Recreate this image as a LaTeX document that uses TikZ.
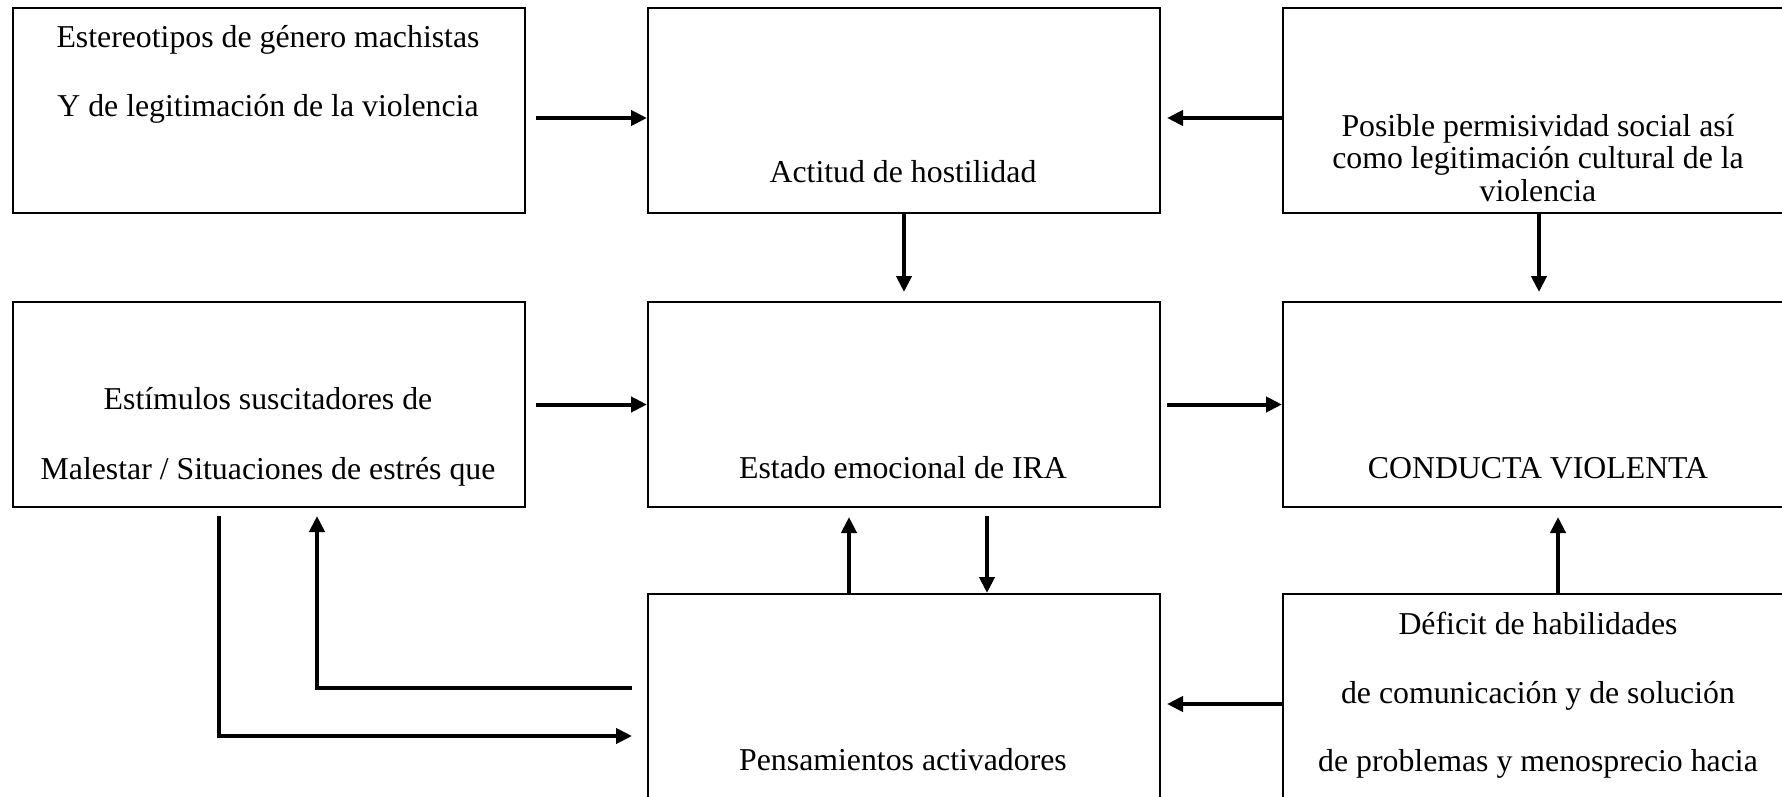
\documentclass[tikz,border=0pt]{standalone}
\usepackage{fontspec}
\setmainfont{Liberation Serif}
\usetikzlibrary{arrows.meta,calc}

\tikzset{
  box/.style={draw, line width=2pt, minimum width=512pt, minimum height=205pt,
              inner sep=0pt, anchor=north west},
  txt/.style={anchor=base, inner sep=0pt, font=\fontsize{31.8}{36}\selectfont},
  link/.style={line width=4pt, -{Triangle[length=16pt,width=15pt]}}
}

\begin{document}
\begin{tikzpicture}[x=1pt, y=-1pt]
  \useasboundingbox (0,0) rectangle (1782,797);
  \clip (0,0) rectangle (1782,797);

  % three rows of boxes; the right column runs past the page edge
  \node[box] (b1) at (12,7) {};
  \node[box] (b2) at (647,7) {};
  \node[box] (b3) at (1282,7) {};
  \node[box] (b4) at (12,301) {};
  \node[box] (b5) at (647,301) {};
  \node[box] (b6) at (1282,301) {};
  \node[box] (b7) at (647,593) {};
  \node[box] (b8) at (1282,593) {};

  % box texts
  \node[txt] (t1a) at (268,48)  {Estereotipos de género machistas};
  \node[txt] (t1b) at (268,117) {Y de legitimación de la violencia};
  \node[txt] (t2)  at (903,182) {Actitud de hostilidad};
  \node[txt] (t3a) at (1538,136) {Posible permisividad social así};
  \node[txt] (t3b) at (1538,168) {como legitimación cultural de la};
  \node[txt] (t3c) at (1538,201) {violencia};
  \node[txt] (t4a) at (268,409) {Estímulos suscitadores de};
  \node[txt] (t4b) at (268,479) {Malestar / Situaciones de estrés que};
  \node[txt] (t5)  at (903,478) {Estado emocional de IRA};
  \node[txt] (t6)  at (1538,478) {CONDUCTA VIOLENTA};
  \node[txt] (t7)  at (903,770) {Pensamientos activadores};
  \node[txt] (t8a) at (1538,634) {Déficit de habilidades};
  \node[txt] (t8b) at (1538,703) {de comunicación y de solución};
  \node[txt] (t8c) at (1538,771) {de problemas y menosprecio hacia};

  % connectors between the first row and the middle box
  \draw[link] ($(b1.north east)+(10,111)$) -- ($(b2.north west)+(0,111)$);
  \draw[link] ($(b3.north west)+(0,111)$) -- ($(b2.north east)+(6,111)$);
  \draw[link] (b2.south) -- ($(b5.north)+(0,-9)$);
  \draw[link] (b3.south) -- ($(b6.north)+(0,-9)$);

  % middle row
  \draw[link] ($(b4.east)+(10,0)$) -- (b5.west);
  \draw[link] ($(b5.east)+(6,0)$) -- (b6.west);

  % between the middle row and the bottom row
  \draw[link] ($(b7.north west)+(202,0)$) -- ($(b5.south west)+(202,9)$);
  \draw[link] ($(b5.south west)+(340,8)$) -- ($(b7.north west)+(340,0)$);
  \draw[link] ($(b8.north west)+(276,0)$) -- ($(b6.south west)+(276,9)$);
  \draw[link] ($(b8.north west)+(0,111)$) -- ($(b7.north east)+(6,111)$);

  % feedback loops between stimuli and thoughts
  \coordinate (la) at ($(b7.north west)+(-15,95)$);
  \coordinate (lb) at ($(b4.south west)+(305,8)$);
  \draw[link] (la) -- (la -| lb) -- (lb);
  \coordinate (lc) at ($(b4.south west)+(207,8)$);
  \coordinate (ld) at ($(b7.north west)+(-15,143)$);
  \draw[link] (lc) -- (lc |- ld) -- (ld);
\end{tikzpicture}
\end{document}
